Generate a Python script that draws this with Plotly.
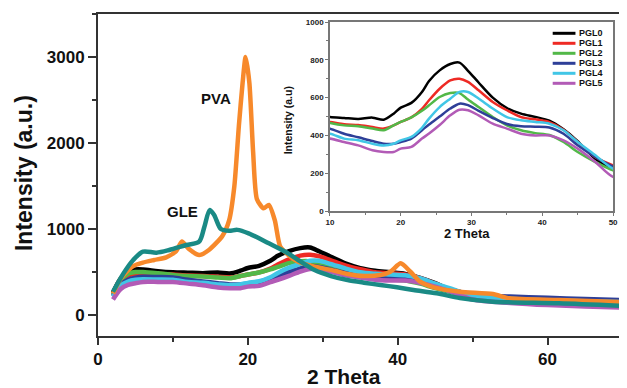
import plotly.graph_objects as go

# ---------------- data ----------------
two_theta = [2, 3, 4, 5, 6, 8, 10, 12, 14, 16, 17.6, 19, 20, 21.5, 23, 24, 25.5, 27, 28.3, 29.5,
             31, 33, 35, 37, 39, 41, 43, 45, 47.5, 50, 55, 60, 65, 70]
pgl0 = [260, 420, 500, 530, 530, 510, 497, 492, 487, 494, 483, 515, 547, 572, 630, 688, 744, 778, 785, 742,
        680, 600, 545, 515, 498, 478, 432, 370, 275, 225, 195, 175, 165, 155]
pgl1 = [240, 390, 460, 480, 485, 478, 471, 459, 455, 444, 436, 453, 471, 495, 540, 586, 647, 691, 700, 683,
        639, 577, 533, 497, 485, 470, 430, 365, 285, 242, 205, 185, 175, 165]
pgl2 = [240, 400, 480, 500, 500, 485, 466, 453, 448, 436, 427, 453, 471, 495, 530, 559, 603, 624, 624, 590,
        550, 497, 453, 427, 412, 402, 365, 312, 259, 215, 180, 160, 148, 140]
pgl3 = [220, 350, 410, 435, 445, 442, 436, 409, 390, 370, 356, 356, 365, 383, 427, 458, 500, 542, 568, 560,
        530, 492, 460, 448, 446, 442, 409, 348, 286, 236, 215, 200, 185, 175]
pgl4 = [210, 340, 390, 410, 415, 412, 409, 383, 374, 356, 347, 356, 374, 392, 440, 489, 550, 594, 630, 630,
        595, 542, 497, 480, 471, 462, 427, 365, 295, 224, 190, 170, 160, 150]
pgl5 = [180, 300, 350, 370, 385, 385, 383, 365, 347, 321, 312, 312, 330, 339, 383, 410, 455, 506, 536, 533,
        506, 462, 436, 409, 400, 400, 374, 330, 259, 180, 140, 115, 100, 85]

pva_x = [2, 3, 4, 4.7, 6, 7.5, 9.1, 10.4, 11.2, 12.1, 13.5, 14.8, 16.6, 17.5, 18.2, 18.8, 19.3, 19.7, 20.2, 20.7,
         21.2, 22.1, 22.8, 23.6, 24.3, 25.4, 26.7, 28.9, 31.6, 33.3, 35.5, 37.7, 39, 40.4, 41.7, 43, 44.8, 48.3,
         52.7, 54.9, 61.5, 70]
pva_y = [250, 420, 520, 570, 610, 640, 670, 740, 855, 770, 698, 756, 920, 1100, 1500, 2200, 2700, 3000, 2700, 1900,
         1350, 1240, 1280, 1100, 800, 698, 620, 562, 515, 477, 453, 465, 503, 601, 503, 387, 322, 271,
         244, 194, 174, 150]

gle_x = [2, 3.4, 4.7, 6, 7.8, 9.5, 11.8, 13.5, 14.2, 14.9, 15.5, 16.4, 17.5, 18.6, 20.1, 22.8, 25, 26.7, 28.9, 31.1,
         33.3, 35.5, 37.7, 39.9, 42.1, 45.2, 48.3, 52.7, 61.5, 70]
gle_y = [270, 484, 640, 736, 725, 756, 814, 853, 1027, 1220, 1163, 1000, 979, 990, 950, 834, 736, 640, 523, 453,
         407, 376, 349, 322, 291, 252, 198, 155, 136, 105]

pgl_names = ["PGL0", "PGL1", "PGL2", "PGL3", "PGL4", "PGL5"]
pgl_series = [pgl0, pgl1, pgl2, pgl3, pgl4, pgl5]
pgl_colors = ["#000000", "#ee2a24", "#52b848", "#2e3f98", "#41c6e6", "#b25bb6"]
pva_color = "#f7892b"
gle_color = "#1a8a85"

main_x_ticks = [0, 20, 40, 60]
main_y_ticks = [0, 1000, 2000, 3000]
inset_x_ticks = [10, 20, 30, 40, 50]
inset_y_ticks = [0, 200, 400, 600, 800, 1000]

FONT = "Liberation Sans, Arial, sans-serif"
OFF = 8  # page body margin
W, H = 627 - OFF, 388 - OFF
L, T = 97.7 - OFF, 14 - OFF
PLOT_RIGHT, PLOT_BOTTOM = 626 - OFF, 336 - OFF
R, B = W - PLOT_RIGHT, H - PLOT_BOTTOM
PW, PH = W - L - R, H - T - B


def px(xp):
    return (xp - OFF - L) / PW


def py(yp):
    return (PLOT_BOTTOM - (yp - OFF)) / PH


fig = go.Figure()

# main chart traces
for name, ys, col in zip(pgl_names, pgl_series, pgl_colors):
    fig.add_trace(go.Scatter(x=two_theta, y=ys, mode="lines", name=name, showlegend=False,
                             line=dict(color=col, width=4.5, shape="spline", smoothing=0.8),
                             xaxis="x", yaxis="y"))
fig.add_trace(go.Scatter(x=pva_x, y=pva_y, mode="lines", name="PVA", showlegend=False,
                         line=dict(color=pva_color, width=4.5, shape="spline", smoothing=0.6),
                         xaxis="x", yaxis="y"))
fig.add_trace(go.Scatter(x=gle_x, y=gle_y, mode="lines", name="GLE", showlegend=False,
                         line=dict(color=gle_color, width=4.5, shape="spline", smoothing=0.8),
                         xaxis="x", yaxis="y"))

# inset traces
for name, ys, col in zip(pgl_names, pgl_series, pgl_colors):
    fig.add_trace(go.Scatter(x=two_theta, y=ys, mode="lines", name=name, showlegend=False,
                             line=dict(color=col, width=2.5, shape="spline", smoothing=0.8),
                             xaxis="x2", yaxis="y2"))

ix0, ix1 = px(332), px(618)
iy0, iy1 = py(211), py(22)

fig.update_layout(
    width=W, height=H,
    margin=dict(l=L, r=R, t=T, b=B),
    paper_bgcolor="white", plot_bgcolor="white",
    font=dict(family=FONT, color="#111"),
    xaxis=dict(domain=[0, 1], range=[0, 69.8], tickvals=main_x_ticks,
               showgrid=False, zeroline=False, showline=True, linecolor="#333", linewidth=2, mirror=True,
               ticks="outside", ticklen=7, tickwidth=2, tickcolor="#333",
               minor=dict(dtick=10, ticks="outside", ticklen=4, tickwidth=2, tickcolor="#333"),
               tickfont=dict(size=17, family=FONT, weight="bold", color="#111")),
    yaxis=dict(domain=[0, 1], range=[-244, 3500], tickvals=main_y_ticks,
               showgrid=False, zeroline=False, showline=True, linecolor="#333", linewidth=2, mirror=True,
               ticks="outside", ticklen=8, tickwidth=2, tickcolor="#333",
               minor=dict(dtick=500, ticks="outside", ticklen=4, tickwidth=2, tickcolor="#333"),
               tickfont=dict(size=17, family=FONT, weight="bold", color="#111")),
    xaxis2=dict(domain=[ix0, ix1], anchor="y2", range=[10, 50], tickvals=inset_x_ticks,
                showgrid=False, zeroline=False, showline=True, linecolor="#777", linewidth=1.5, mirror=True,
                ticks="outside", ticklen=3, tickwidth=1, tickcolor="#777",
                minor=dict(dtick=5, ticks="outside", ticklen=2, tickwidth=1, tickcolor="#777"),
                tickfont=dict(size=8, family=FONT, weight="bold", color="#222")),
    yaxis2=dict(domain=[iy0, iy1], anchor="x2", range=[0, 1000], tickvals=inset_y_ticks,
                showgrid=False, zeroline=False, showline=True, linecolor="#777", linewidth=1.5, mirror=True,
                ticks="outside", ticklen=3, tickwidth=1, tickcolor="#777",
                minor=dict(dtick=100, ticks="outside", ticklen=2, tickwidth=1, tickcolor="#777"),
                tickfont=dict(size=8, family=FONT, weight="bold", color="#222")),
)

ann = []
# main titles
ann.append(dict(text="Intensity (a.u.)", x=px(23), y=py(173), xref="paper", yref="paper",
                textangle=-90, showarrow=False, xanchor="center", yanchor="middle",
                font=dict(size=23, family=FONT, weight="bold", color="#111")))
ann.append(dict(text="2 Theta", x=px(346), y=py(376), xref="paper", yref="paper",
                showarrow=False, xanchor="center", yanchor="middle",
                font=dict(size=21, family=FONT, weight="bold", color="#111")))
# peak labels
ann.append(dict(text="PVA", x=15.8, y=2523, xref="x", yref="y", showarrow=False,
                font=dict(size=15, family=FONT, weight="bold", color="#111")))
ann.append(dict(text="GLE", x=11.3, y=1209, xref="x", yref="y", showarrow=False,
                font=dict(size=15, family=FONT, weight="bold", color="#111")))
# inset titles
ann.append(dict(text="2 Theta", x=px(470), y=py(233), xref="paper", yref="paper",
                showarrow=False, xanchor="center", yanchor="middle",
                font=dict(size=13, family=FONT, weight="bold", color="#111")))
ann.append(dict(text="Intensity (a.u)", x=px(290), y=py(120), xref="paper", yref="paper",
                textangle=-90, showarrow=False, xanchor="center", yanchor="middle",
                font=dict(size=10.5, family=FONT, weight="bold", color="#111")))

# inset legend (compact, drawn manually)
shapes = []
for i, (name, col) in enumerate(zip(pgl_names, pgl_colors)):
    yrow = 33.3 + 10 * i
    shapes.append(dict(type="line", xref="paper", yref="paper", x0=px(557), x1=px(580),
                       y0=py(yrow), y1=py(yrow), line=dict(color=col, width=3)))
    ann.append(dict(text=name, x=px(582), y=py(yrow), xref="paper", yref="paper", showarrow=False,
                    xanchor="left", yanchor="middle",
                    font=dict(size=9, family=FONT, weight="bold", color="#111")))

fig.update_layout(annotations=ann, shapes=shapes)
fig.write_html("out.html")
